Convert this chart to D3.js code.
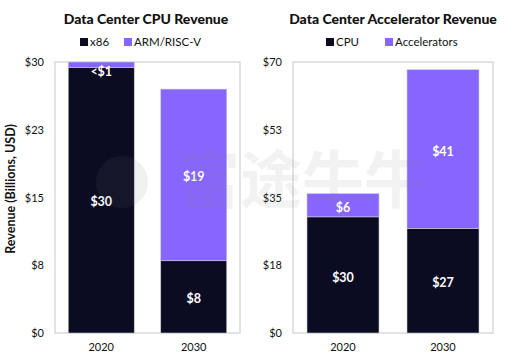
<!DOCTYPE html>
<html><head><meta charset="utf-8">
<script src="https://cdn.jsdelivr.net/npm/d3@7"></script>
<style>body{margin:0;background:#fff}svg{display:block;font-family:Lato,"Open Sans",sans-serif}</style>
</head><body><svg id="c" width="512" height="364"></svg>
<script>
const years = ["2020","2030"];
const cpuTitle = "Data Center CPU Revenue";
const cpuSeries = ["x86","ARM/RISC-V"];
const x86Values = [29.4, 8];
const armValues = [0.6, 19];
const cpuLabels = [["$30","$8"],["<$1","$19"]];
const cpuTicks = [0, 7.5, 15, 22.5, 30];
const cpuTickLabels = ["$0","$8","$15","$23","$30"];

const accTitle = "Data Center Accelerator Revenue";
const accSeries = ["CPU","Accelerators"];
const accCpuValues = [30, 27];
const accAccValues = [6, 41];
const accLabels = [["$30","$27"],["$6","$41"]];
const accTicks = [0, 17.5, 35, 52.5, 70];
const accTickLabels = ["$0","$18","$35","$53","$70"];

const colors = ["#0b0b22","#8765ff"];
const svg = d3.select("#c");

function panel(o){
  const {left,right,top,bottom,max,ticks,tickLabels,s0,s1,labels,title,titleX,series,legendX,barW,padInner} = o;
  const g = svg.append("g");
  const x = d3.scaleBand().domain(years).range([left,right]).paddingInner(padInner).paddingOuter(padInner/2);
  const y = d3.scaleLinear().domain([0,max]).range([bottom,top]);
  g.append("rect").attr("x",left).attr("y",top).attr("width",right-left).attr("height",bottom-top)
    .attr("fill","none").attr("stroke","#d0d0d0").attr("stroke-width",1.2);
  const stack = years.map((yr,i)=>({yr, a:s0[i], b:s1[i]}));
  const bw = x.bandwidth();
  stack.forEach((d,i)=>{
    const cx = x(d.yr)+bw/2;
    g.append("rect").attr("x",cx-barW/2).attr("width",barW).attr("y",y(d.a)).attr("height",y(0)-y(d.a))
      .attr("fill",colors[0]).attr("stroke","#c8c8d8").attr("stroke-width",0.6);
    g.append("rect").attr("x",cx-barW/2).attr("width",barW).attr("y",y(d.a+d.b)).attr("height",y(d.a)-y(d.a+d.b))
      .attr("fill",colors[1]).attr("stroke","#c8c8d8").attr("stroke-width",0.6);
  });
  const lblPos = o.labelPos;
  years.forEach((yr,i)=>{
    const cx = x(yr)+bw/2;
    [0,1].forEach(s=>{
      g.append("text").attr("x",cx).attr("y",y(lblPos[s][i])).attr("dy","0.35em")
        .attr("text-anchor","middle").attr("fill","#fff").attr("font-weight",700).attr("font-size",12.5)
        .text(labels[s][i]);
    });
  });
  const ya = d3.axisLeft(y).tickValues(ticks).tickFormat((d,i)=>tickLabels[i]).tickSize(0).tickPadding(11);
  const ag = g.append("g").attr("transform",`translate(${left},0)`).call(ya);
  ag.select(".domain").remove();
  ag.selectAll("text").attr("font-size",11).attr("fill","#111").attr("font-family","Lato,sans-serif");
  const xa = d3.axisBottom(x).tickSize(0).tickPadding(10);
  const xg = g.append("g").attr("transform",`translate(0,${bottom})`).call(xa);
  xg.select(".domain").remove();
  xg.selectAll("text").attr("font-size",11).attr("fill","#111").attr("font-family","Lato,sans-serif");
  g.append("text").attr("x",titleX).attr("y",24).attr("text-anchor","middle").attr("font-weight",900)
    .attr("font-size",14).attr("fill","#111").text(title);
  series.forEach((s,i)=>{
    g.append("rect").attr("x",legendX[i]).attr("y",38).attr("width",8).attr("height",8).attr("fill",colors[i]);
    g.append("text").attr("x",legendX[i]+10).attr("y",42).attr("dy","0.35em").attr("font-size",11.5)
      .attr("fill","#111").text(s);
  });
}

panel({left:55,right:240,top:62,bottom:333,max:30,ticks:cpuTicks,tickLabels:cpuTickLabels,
  s0:x86Values,s1:armValues,labels:cpuLabels,title:cpuTitle,titleX:146,series:cpuSeries,
  legendX:[80,124],barW:66,padInner:0.3,
  labelPos:[[14.5,3.8],[28.9,17.3]]});
panel({left:293,right:493,top:62,bottom:333,max:70,ticks:accTicks,tickLabels:accTickLabels,
  s0:accCpuValues,s1:accAccValues,labels:accLabels,title:accTitle,titleX:393,series:accSeries,
  legendX:[326,385],barW:72,padInner:0.3,
  labelPos:[[14.3,13.0],[32.4,46.8]]});

svg.append("text").attr("transform","translate(15,189) rotate(-90)").attr("text-anchor","middle")
  .attr("font-weight",700).attr("font-size",12.5).attr("fill","#111").text("Revenue (Billions, USD)");

// faint watermark overlay
const wm = svg.append("g").attr("opacity",0.1).attr("pointer-events","none");
wm.append("circle").attr("cx",122).attr("cy",182).attr("r",26).attr("fill","#777");
wm.append("text").attr("x",178).attr("y",203).attr("font-size",62).attr("fill","#888")
  .attr("font-family","'Noto Sans CJK SC',sans-serif").attr("font-weight",700).text("富途牛牛");
</script></body></html>
